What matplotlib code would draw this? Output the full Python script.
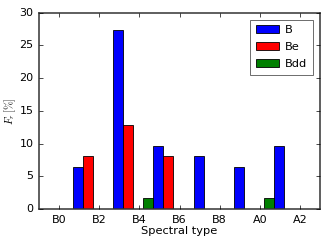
import matplotlib
matplotlib.use("Agg")
import matplotlib.pyplot as plt
import numpy as np

plt.style.use('classic')

# Data
group_subtype = [1, 3, 5, 7, 9, 11]          # bin centres (subtype index, B0=0 ... A2=12)
B_vals = [6.45, 27.42, 9.68, 8.06, 6.45, 9.68]
Be_vals = [8.06, 12.90, 8.06, 0, 0, 0]
Bdd_vals = [0, 0, 1.61, 0, 0, 1.61]
tick_pos = [0, 2, 4, 6, 8, 10, 12]
tick_labels = ['B0', 'B2', 'B4', 'B6', 'B8', 'A0', 'A2']

fig = plt.figure(figsize=(3.27, 2.45), dpi=100, facecolor='white')
ax = fig.add_axes([0.119, 0.147, 0.860, 0.801])

x = np.array(group_subtype, dtype=float)
w = 0.5
ax.bar(x - 0.3, B_vals, width=w, align='edge', color='b', edgecolor='k', linewidth=0.6, label='B')
ax.bar(x + 0.2, Be_vals, width=w, align='edge', color='r', edgecolor='k', linewidth=0.6, label='Be')
ax.bar(x - 0.8, Bdd_vals, width=w, align='edge', color='g', edgecolor='k', linewidth=0.6, label='Bdd')

ax.set_xlim(-1, 13)
ax.set_ylim(0, 30)
ax.set_xticks(tick_pos)
ax.set_xticklabels(tick_labels)
ax.set_yticks([0, 5, 10, 15, 20, 25, 30])
ax.tick_params(labelsize=8, length=3, width=0.5)
ax.set_xlabel('Spectral type', fontsize=8.2, labelpad=1)
ax.set_ylabel(r'$F_r\,[\%]$', fontsize=7.5, labelpad=1)
for s in ax.spines.values():
    s.set_linewidth(1.1)
    s.set_color('#333333')

leg = ax.legend(loc='upper right', fontsize=8.2, handlelength=2.0, handleheight=0.7,
                borderpad=0.5, labelspacing=0.6, handletextpad=0.6, borderaxespad=0.6,
                fancybox=False)
leg.get_frame().set_linewidth(0.6)
leg.get_frame().set_edgecolor('#555555')

fig.savefig('out.png', dpi=100, facecolor='white')
